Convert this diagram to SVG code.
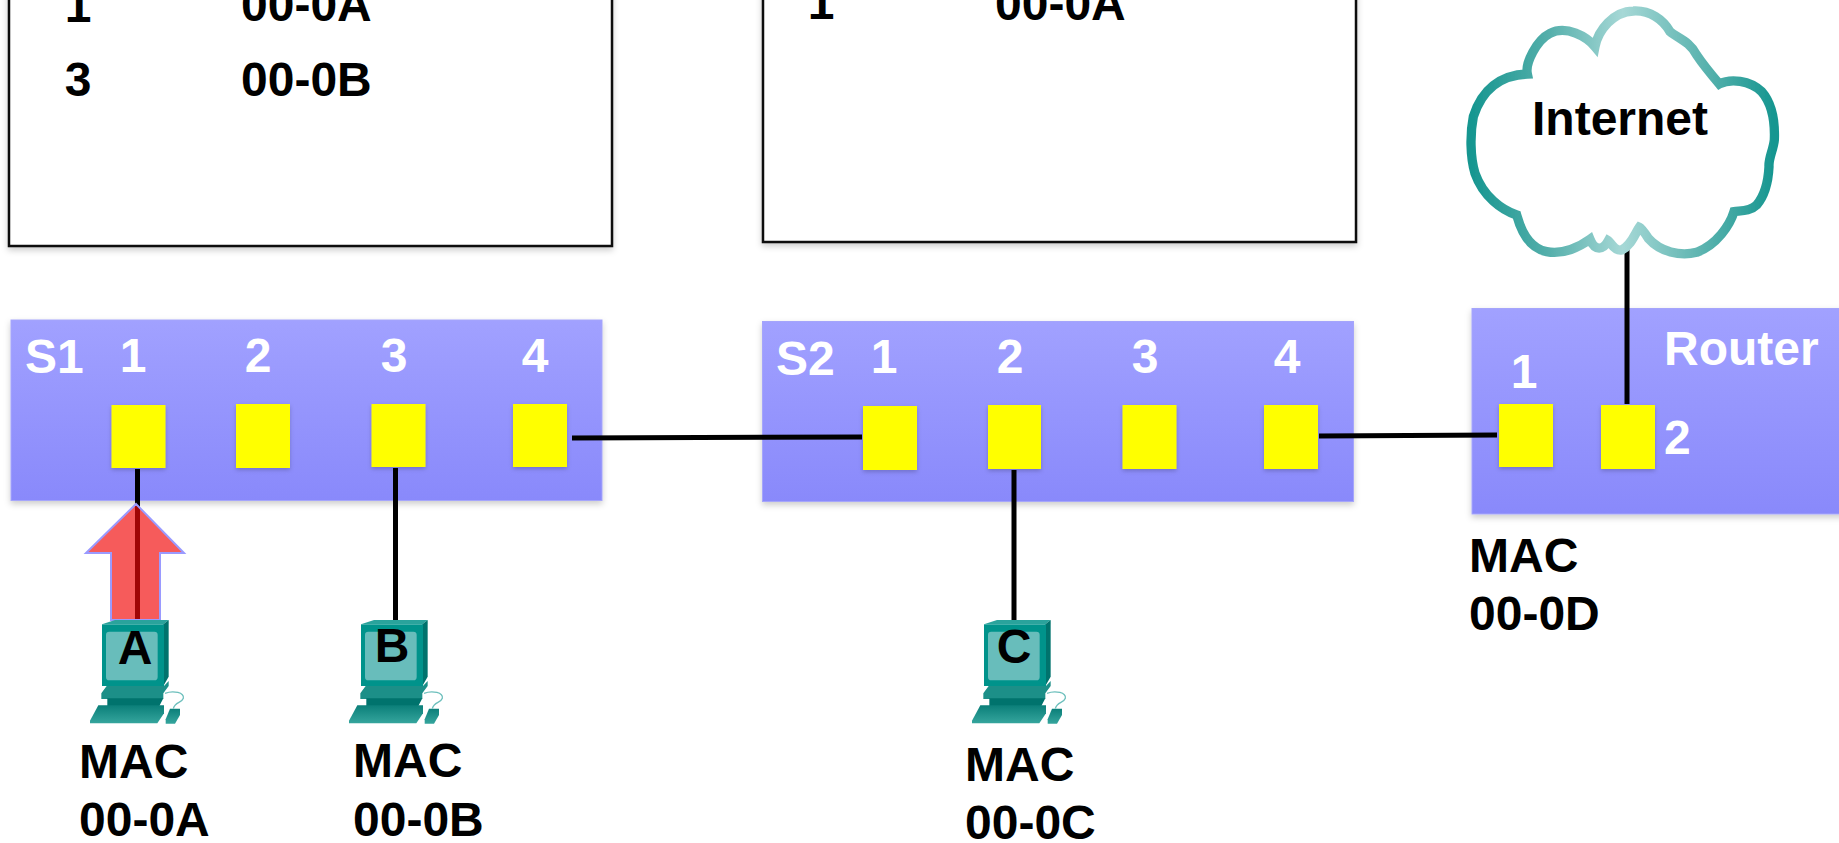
<svg xmlns="http://www.w3.org/2000/svg" xmlns:xlink="http://www.w3.org/1999/xlink" width="1839" height="843" viewBox="0 0 1839 843">
<style>
text{font-family:"Liberation Sans",Arial,sans-serif;font-weight:700;font-size:48px}
.k{fill:#000}.w{fill:#fff}.m{text-anchor:middle}
.table{fill:#fff;stroke:#111;stroke-width:2.5;filter:url(#sh)}
.panel{fill:url(#pg);stroke:#a5a5fb;stroke-width:1;filter:url(#sh)}
.port{fill:#ff0;filter:url(#ps)}
.wire{stroke:#000;stroke-width:5;fill:none}
</style>
<defs>
<linearGradient id="pg" x1="0" y1="0" x2="0" y2="1"><stop offset="0" stop-color="#a1a1ff"/><stop offset="1" stop-color="#8989fb"/></linearGradient>
<linearGradient id="cg" x1="0" y1="0" x2="1" y2="0"><stop offset="0" stop-color="#169690"/><stop offset=".25" stop-color="#53aeaa"/><stop offset=".5" stop-color="#a6d8d6"/><stop offset=".75" stop-color="#5fb5b1"/><stop offset="1" stop-color="#169690"/></linearGradient>
<linearGradient id="kb" x1="0" y1="0" x2="0" y2="1"><stop offset="0" stop-color="#0b7f79"/><stop offset="1" stop-color="#35a59d"/></linearGradient>
<filter id="sh" x="-5%" y="-10%" width="110%" height="120%"><feDropShadow dx="0" dy="3" stdDeviation="3" flood-color="#000" flood-opacity=".2"/></filter>
<filter id="ps" x="-20%" y="-20%" width="140%" height="140%"><feDropShadow dx="0" dy="2" stdDeviation="2" flood-color="#000" flood-opacity=".2"/></filter>
<filter id="cb" x="-5%" y="-5%" width="110%" height="110%"><feGaussianBlur stdDeviation="1.200"/></filter>
<g id="pc" transform="scale(.33333) translate(-306,-420)">
<polygon points="306,433 345,420 506,420 490,433" fill="#2aa39c"/>
<polygon points="490,433 506,420 506,590 490,618" fill="#00736d"/>
<rect x="306" y="433" width="186" height="185" fill="#00938b"/>
<rect x="318" y="455" width="155" height="146" rx="10" fill="#68bdbb"/>
<polygon points="320,618 492,618 506,603 506,618 490,640 490,657 304,657 304,640" fill="#1c8f88"/>
<polygon points="322,655 490,655 478,678 322,678" fill="#00736d"/>
<polygon points="295,676 492,676 492,700 472,730 270,730 270,722" fill="url(#kb)"/>
<polygon points="510,686 540,686 540,705 525,731 497,731 497,718" fill="url(#kb)"/>
<path d="M495,640C520,630 555,638 550,655C545,670 525,665 520,686" fill="none" stroke="#6cbfbc" stroke-width="4"/>
</g>
</defs>
<rect width="1839" height="843" fill="#fff"/>

<g id="table-s1">
<rect class="table" x="9" y="-20" width="603" height="266"/>
<text class="k m" x="78" y="22">1</text><text class="k" x="241" y="21">00-0A</text>
<text class="k m" x="78" y="96">3</text><text class="k" x="241" y="96">00-0B</text>
</g>
<g id="table-s2">
<rect class="table" x="763" y="-20" width="593" height="262"/>
<text class="k m" x="821" y="19">1</text><text class="k" x="995" y="20">00-0A</text>
</g>

<g id="switch-s1">
<rect class="panel" x="11" y="320" width="591" height="180.500"/>
<text class="w" x="25" y="373">S1</text>
<text class="w m" x="133" y="372">1</text><text class="w m" x="258" y="372">2</text><text class="w m" x="394" y="372">3</text><text class="w m" x="535" y="372">4</text>
<rect class="port" x="111.500" y="405" width="54" height="63"/><rect class="port" x="236" y="404" width="54" height="64"/><rect class="port" x="371.500" y="404" width="54" height="63"/><rect class="port" x="513" y="404" width="54" height="63"/>
</g>
<g id="switch-s2">
<rect class="panel" x="762.500" y="321.500" width="591" height="180"/>
<text class="w" x="776" y="375">S2</text>
<text class="w m" x="884" y="373">1</text><text class="w m" x="1010" y="373">2</text><text class="w m" x="1145" y="373">3</text><text class="w m" x="1287" y="373">4</text>
<rect class="port" x="863" y="406" width="54" height="64"/><rect class="port" x="988" y="405" width="53" height="64"/><rect class="port" x="1122.500" y="405" width="54" height="64"/><rect class="port" x="1264" y="405" width="54" height="64"/>
</g>
<g id="router">
<rect class="panel" x="1472" y="308.500" width="380" height="205.500"/>
<text class="w" x="1664" y="365">Router</text>
<text class="w m" x="1524" y="388">1</text><text class="w" x="1664" y="454">2</text>
<rect class="port" x="1499" y="404" width="54" height="63"/><rect class="port" x="1601" y="405" width="54" height="64"/>
</g>

<g id="connectors">
<line class="wire" x1="572" y1="438" x2="862" y2="437"/>
<line class="wire" x1="1319" y1="436" x2="1497" y2="435"/>
<line class="wire" x1="1627" y1="250" x2="1627" y2="404"/>
<line class="wire" x1="137.500" y1="469" x2="137.500" y2="622"/>
<line class="wire" x1="395.500" y1="468" x2="395.500" y2="622"/>
<line class="wire" x1="1014" y1="470" x2="1014" y2="622"/>
</g>

<g id="internet">
<path filter="url(#cb)" transform="translate(1440,0) scale(.33333)" d="M465,140C475,90 520,35 580,33C630,30 670,60 690,95C715,115 750,125 770,165C790,195 815,225 838,252C870,235 930,240 965,275C1000,315 1005,370 1003,420C1000,450 985,475 987,500C985,540 975,585 950,615C930,635 900,632 882,635C870,675 830,735 770,757C720,770 660,755 625,715C615,700 605,685 598,682C585,700 575,735 545,750C525,755 510,725 505,722C490,750 465,755 450,718C420,740 370,765 320,755C270,745 245,700 230,645C185,630 130,590 105,520C90,470 90,400 100,350C125,270 180,225 262,222C255,190 290,120 330,100C380,75 440,110 465,140Z" fill="#fff" stroke="url(#cg)" stroke-width="28"/>
<text class="k" x="1532" y="135">Internet</text>
</g>

<g id="arrow">
<polygon points="136,504 184,553 160,553 160,620 111,620 111,553 86,553" fill="#f10808" fill-opacity=".663" stroke="#9a9aff" stroke-width="2"/>
</g>

<g id="pc-a">
<use xlink:href="#pc" href="#pc" transform="translate(102,620)"/>
<text class="k m" x="135" y="664">A</text>
<text class="k" x="79" y="778">MAC</text><text class="k" x="79" y="836">00-0A</text>
</g>
<g id="pc-b">
<use xlink:href="#pc" href="#pc" transform="translate(361,620)"/>
<text class="k m" x="392" y="662">B</text>
<text class="k" x="353" y="777">MAC</text><text class="k" x="353" y="836">00-0B</text>
</g>
<g id="pc-c">
<use xlink:href="#pc" href="#pc" transform="translate(984,620)"/>
<text class="k m" x="1014" y="663">C</text>
<text class="k" x="965" y="781">MAC</text><text class="k" x="965" y="839">00-0C</text>
</g>
<g id="router-mac">
<text class="k" x="1469" y="572">MAC</text><text class="k" x="1469" y="630">00-0D</text>
</g>
</svg>
